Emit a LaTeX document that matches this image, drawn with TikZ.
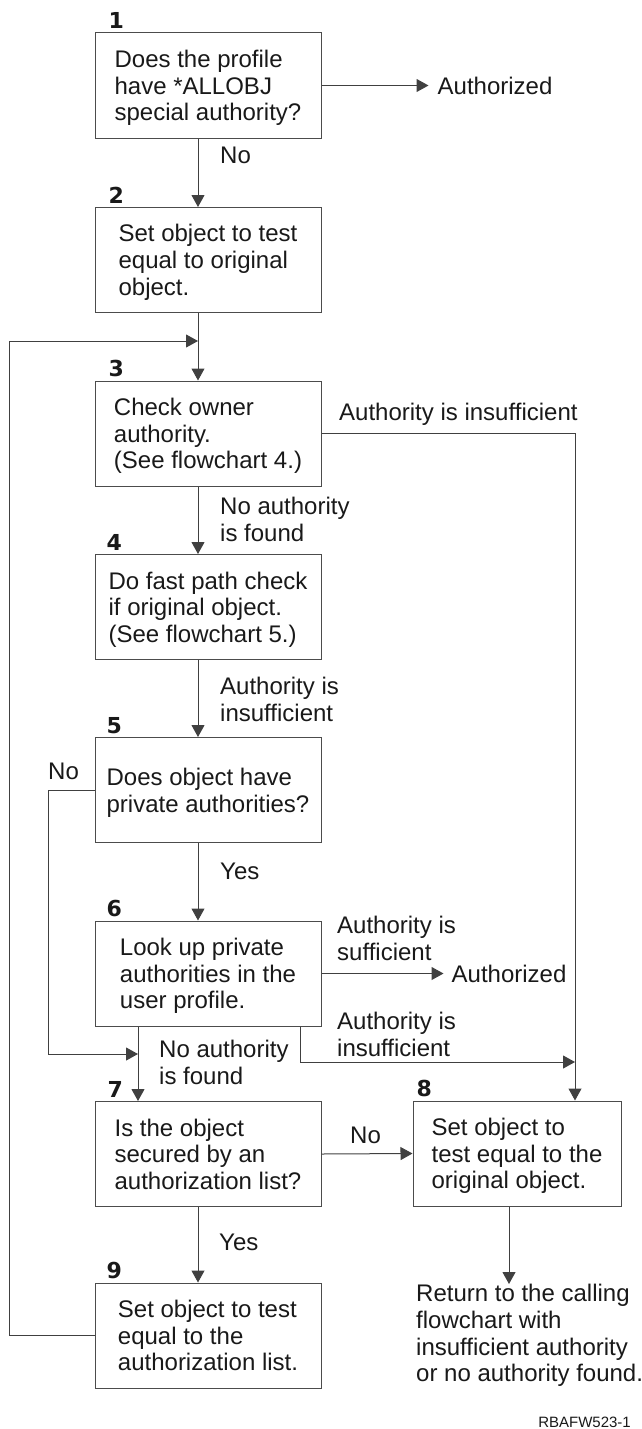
\documentclass[tikz,border=0pt]{standalone}
\usepackage{fontspec}
\setmainfont{Liberation Sans}
\newfontfamily\numfont{DejaVu Sans}
\usetikzlibrary{arrows.meta,positioning}

\tikzstyle{box}=[draw=black!70, line width=1pt, minimum width=226pt, minimum height=105pt, align=left, inner sep=0pt, text depth=0pt, font=\fontsize{24}{26.7}\selectfont, text=black!90]
\tikzstyle{num}=[font=\fontsize{22}{24}\numfont\bfseries, inner sep=0pt, anchor=base west, text=black!90]
\tikzstyle{lab}=[font=\fontsize{24}{26.7}\selectfont, align=left, inner sep=0pt, anchor=north west, text=black!90]
\tikzstyle{flow}=[draw=black!75, line width=1pt]
\tikzstyle{flow arrow}=[flow, -{Triangle[length=12pt, width=13pt]}]

\begin{document}
\begin{tikzpicture}[x=1pt, y=-1pt]
		\useasboundingbox (0,0) rectangle (641,1429);
		\foreach \pos/\name/\txt in {{(208,85.5)/1/{Does the profile\\have *ALLOBJ\\special authority?}}, {(208,260)/2/{Set object to test\\equal to original\\object.}}, {(208,433.5)/3/{Check owner\\authority.\\(See flowchart 4.)}}, {(208,607)/4/{Do fast path check\\if original object.\\(See flowchart 5.)}}, {(208,790)/5/{Does object have\\private authorities?}}, {(208,973.5)/6/{Look up private\\authorities in the\\user profile.}}, {(208,1154)/7/{Is the object\\secured by an\\authorization list?}}, {(208,1335.5)/9/{Set object to test\\equal to the\\authorization list.}}}
			\node[box] (\name) at \pos {\txt};
		\node[box, minimum width=208pt] (8) at (517,1153.5) {Set object to\\test equal to the\\original object.};
		\foreach \name/\dx in {1/14, 2/14, 3/14, 4/12, 5/12, 6/12, 7/13, 8/4, 9/12}
			\node[num] (n\name) at ([xshift=\dx pt, yshift=4pt]\name.north west) {\name};

		% outside texts
		\node[lab, inner xsep=9pt, right=107pt of 1] (auth1) {Authorized};
		\node[lab, inner xsep=8pt, right=122pt of 6] (auth2) {Authorized};
		\node[lab] (ret) at (416,1284) {Return to the calling\\flowchart with\\insufficient authority\\or no authority found.};
		\node[lab, anchor=east, font=\fontsize{15}{16}\selectfont] (fig) at (631,1422) {RBAFW523-1};

		% connector labels
		\node[lab] (no1) at (220,147) {No};
		\node[lab] (ins3) at (339,403) {Authority is insufficient};
		\node[lab] (nf3) at (220,497) {No authority\\is found};
		\node[lab] (ins4) at (220,677) {Authority is\\insufficient};
		\node[lab] (no5) at (48,763) {No};
		\node[lab] (yes5) at (220,863) {Yes};
		\node[lab] (suf6) at (337,916) {Authority is\\sufficient};
		\node[lab] (ins6) at (337,1012) {Authority is\\insufficient};
		\node[lab] (nf6) at (159,1040) {No authority\\is found};
		\node[lab] (no7) at (350,1127) {No};
		\node[lab] (yes7) at (219,1234) {Yes};

		% connectors
		\coordinate (spine) at (198,0);
		\coordinate (spine6) at (138,0);
		\coordinate (loop) at (9,341);
		\coordinate (join3) at (198,341);
		\coordinate (nobend) at (48,1054);
		\coordinate (join7) at (138,1054);
		\coordinate (join8) at (575,1062);
		\foreach \source/\dest in {1/2, 2/3, 3/4, 4/5, 5/6, 7/9}
			\path[flow arrow] (\source.south -| spine) -- (\dest.north -| spine);
		\path[flow arrow] (6.south -| spine6) -- (7.north -| spine6);
		\path[flow arrow] (1.east) -- (1.east -| auth1.west);
		\path[flow arrow] (6.east) -- (6.east -| auth2.west);
		\path[flow arrow] (9.west) -| (loop) -- (join3);
		\path[flow arrow] (3.east) -| (8.north -| join8);
		\path[flow arrow] (5.west) -| (nobend) -- (join7);
		\path[flow arrow] ([xshift=92pt]6.south) |- (join8);
		\path[flow arrow] (7.east) -- (8.west);
		\path[flow arrow] ([xshift=-8pt]8.south) -- ([xshift=-8pt]8.south |- ret.north);
	\end{tikzpicture}
\end{document}
